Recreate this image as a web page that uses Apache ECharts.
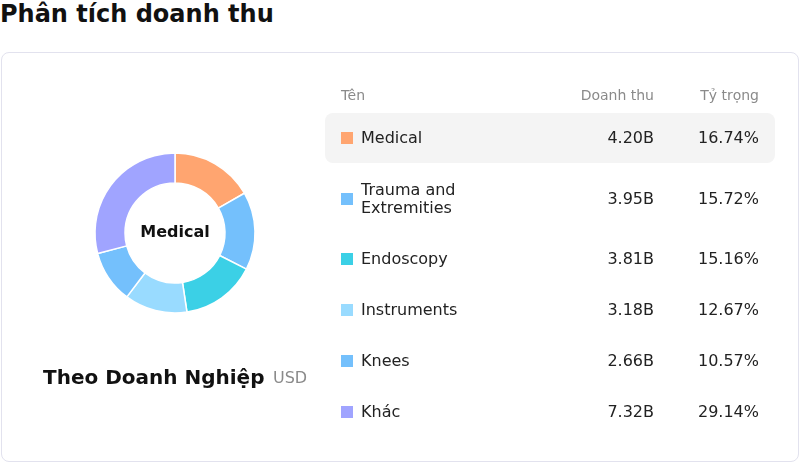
<!DOCTYPE html>
<html><head><meta charset="utf-8">
<script src="https://cdn.jsdelivr.net/npm/echarts@6/dist/echarts.min.js"></script>
<style>
body{margin:0;width:800px;height:463px;font-family:"DejaVu Sans",sans-serif;position:relative;overflow:hidden;background:#fff}
#title{position:absolute;left:0;top:0px;font-size:24px;font-weight:bold;color:#111}
#card{position:absolute;left:1px;top:52px;width:796px;height:408px;border:1px solid #e2e2ee;border-radius:8px}
#chart{position:absolute;left:0;top:0;width:800px;height:463px}
.t{position:absolute;font-size:16px;color:#222;white-space:nowrap}
.h{position:absolute;font-size:14px;color:#8a8a8a}
.r{text-align:right}
.sq{position:absolute;width:12px;height:12px}
#hl{position:absolute;left:325px;top:113px;width:450px;height:50px;background:#f4f4f4;border-radius:8px}
</style></head><body>
<div id="title">Phân tích doanh thu</div>
<div id="card"></div>
<div id="hl"></div>
<div id="chart"></div>
<div id="tbl"></div>
<script>
const categories=["Medical","Trauma and\nExtremities","Endoscopy","Instruments","Knees","Khác"];
const revenueLabels=["4.20B","3.95B","3.81B","3.18B","2.66B","7.32B"];
const revenue=[4.20,3.95,3.81,3.18,2.66,7.32];
const shares=["16.74%","15.72%","15.16%","12.67%","10.57%","29.14%"];
const colors=["#FFA570","#74C0FC","#3BD0E6","#99DBFF","#74C0FC","#A0A4FF"];
const rowY=[138,199,259,310,361,412];
let html='<div class="h" style="left:341px;top:87px">Tên</div>'+
'<div class="h r" style="left:554px;width:100px;top:87px">Doanh thu</div>'+
'<div class="h r" style="left:659px;width:100px;top:87px">Tỷ trọng</div>';
categories.forEach((c,i)=>{
 const lines=c.split("\n");const hgt=lines.length*18;
 html+=`<div class="sq" style="left:341px;top:${rowY[i]-6}px;background:${colors[i]}"></div>`;
 html+=`<div class="t" style="left:361px;top:${rowY[i]-hgt/2}px;line-height:18px">${lines.join("<br>")}</div>`;
 html+=`<div class="t r" style="left:554px;width:100px;top:${rowY[i]-10}px">${revenueLabels[i]}</div>`;
 html+=`<div class="t r" style="left:659px;width:100px;top:${rowY[i]-10}px">${shares[i]}</div>`;
});
document.getElementById('tbl').innerHTML=html;
const chart=echarts.init(document.getElementById('chart'));
chart.setOption({
 animation:false,
 graphic:[
  {type:'text',left:43,top:369,style:{text:'Theo Doanh Nghiệp',font:'bold 20px "DejaVu Sans"',fill:'#111'}},
  {type:'text',left:273,top:371,style:{text:'USD',font:'16px "DejaVu Sans"',fill:'#8a8a8a'}}
 ],
 series:[{type:'pie',center:[175,233],radius:[50,80],startAngle:90,clockwise:true,
  itemStyle:{borderColor:'#fff',borderWidth:1.5},
  label:{show:true,position:'center',formatter:()=> 'Medical',fontSize:16,fontWeight:'bold',color:'#111',fontFamily:'DejaVu Sans'},
  labelLine:{show:false},emphasis:{disabled:true},
  data:categories.map((c,i)=>({name:c.replace("\n"," "),value:revenue[i],itemStyle:{color:colors[i]},label:{show:i===0}}))
 }]
});
</script></body></html>
